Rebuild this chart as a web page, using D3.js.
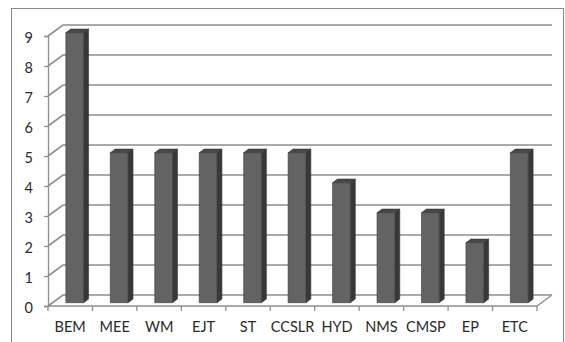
<!DOCTYPE html>
<html>
<head>
<meta charset="utf-8">
<script src="https://cdn.jsdelivr.net/npm/d3@7"></script>
<style>
  html, body { margin: 0; padding: 0; background: #fff; }
  svg { display: block; }
  text { font-family: Lato, "Open Sans", sans-serif; fill: #2a2a2a; }
</style>
</head>
<body>
<svg id="chart" width="565" height="342"></svg>
<script>
// Counts per category
const categories = ["BEM", "MEE", "WM", "EJT", "ST", "CCSLR", "HYD", "NMS", "CMSP", "EP", "ETC"];
const values = [9, 5, 5, 5, 5, 5, 4, 3, 3, 2, 5];
const yTicks = [0, 1, 2, 3, 4, 5, 6, 7, 8, 9];

const svg = d3.select("#chart");

// Front plane of the 3D box, plus the offset to the back wall
const x = d3.scaleBand().domain(categories).range([48, 537]);
const y = d3.scaleLinear().domain([0, 9]).range([306, 36]);
const depthX = 15, depthY = -11;

// Bars sit partway into the box depth
const barDepth0 = 0.3, barDepth1 = 0.63;
const faceW = x.bandwidth() * 0.4;

const gridColor = "#8e8e8e";
const textColor = "#2a2a2a";

// Outer frame
svg.append("rect")
  .attr("x", 11.5).attr("y", 8.5)
  .attr("width", 552).attr("height", 340)
  .attr("fill", "none").attr("stroke", "#8a8a8a").attr("stroke-width", 1);

const grid = svg.append("g");

// Back-wall gridlines with their diagonal on the left side wall
yTicks.forEach(t => {
  const yf = y(t);
  grid.append("polyline")
    .attr("points", [[x.range()[0], yf], [x.range()[0] + depthX, yf + depthY], [x.range()[1] + depthX, yf + depthY]].map(p => p.join(",")).join(" "))
    .attr("fill", "none")
    .attr("stroke", gridColor)
    .attr("stroke-width", 1.6);
});

// Floor: front edge and right edge
grid.append("polyline")
  .attr("points", [[x.range()[0], y(0)], [x.range()[1], y(0)], [x.range()[1] + depthX, y(0) + depthY]].map(p => p.join(",")).join(" "))
  .attr("fill", "none").attr("stroke", gridColor).attr("stroke-width", 1.3);

// Value axis on the front plane
const yAxis = d3.axisLeft(y).tickValues(yTicks).tickSize(4).tickPadding(11).tickFormat(d3.format("d"));
const yg = svg.append("g").attr("transform", `translate(${x.range()[0]},0)`).call(yAxis);
yg.select(".domain").attr("stroke", gridColor).attr("stroke-width", 1.3);
yg.selectAll(".tick line").attr("stroke", gridColor).attr("stroke-width", 1.3);
yg.selectAll(".tick text")
  .attr("font-size", 14.5).attr("font-family", "Lato, 'Open Sans', sans-serif")
  .attr("fill", textColor).attr("dy", "0.42em");

// Category axis on the front floor edge
const xAxis = d3.axisBottom(x).tickSize(0).tickPadding(15.5);
const xg = svg.append("g").attr("transform", `translate(0,${y(0)})`).call(xAxis);
xg.select(".domain").remove();
xg.selectAll(".tick text")
  .attr("font-size", 14.5).attr("font-family", "Lato, 'Open Sans', sans-serif")
  .attr("fill", textColor);

// Category separator ticks
const sepTicks = d3.range(categories.length + 1).map(i => x.range()[0] + i * x.step());
svg.append("g").selectAll("line").data(sepTicks).join("line")
  .attr("x1", d => d).attr("x2", d => d)
  .attr("y1", y(0)).attr("y2", y(0) + 5)
  .attr("stroke", gridColor).attr("stroke-width", 1.3);

// 3D bars: front, side and top faces
const bars = svg.append("g").selectAll("g").data(categories.map((c, i) => ({ c, v: values[i] }))).join("g");

function pt(xv, yv, d) { return [xv + depthX * d, yv + depthY * d]; }

bars.each(function (d) {
  const g = d3.select(this);
  const cx = x(d.c) + x.bandwidth() / 2;
  const xl = cx - faceW / 2, xr = cx + faceW / 2;
  const yt = y(d.v), yb = y(0);
  const f = [pt(xl, yt, barDepth0), pt(xr, yt, barDepth0), pt(xr, yb, barDepth0), pt(xl, yb, barDepth0)];
  const side = [f[1], pt(xr, yt, barDepth1), pt(xr, yb, barDepth1), f[2]];
  const top = [f[0], pt(xl, yt, barDepth1), pt(xr, yt, barDepth1), f[1]];
  const poly = p => p.map(q => q.join(",")).join(" ");
  g.append("polygon").attr("points", poly(side)).attr("fill", "#383838").attr("stroke", "#333").attr("stroke-width", 0.6);
  g.append("polygon").attr("points", poly(top)).attr("fill", "#484848").attr("stroke", "#333").attr("stroke-width", 0.6);
  g.append("polygon").attr("points", poly(f)).attr("fill", "#636363").attr("stroke", "#3a3a3a").attr("stroke-width", 0.6);
});
</script>
</body>
</html>
